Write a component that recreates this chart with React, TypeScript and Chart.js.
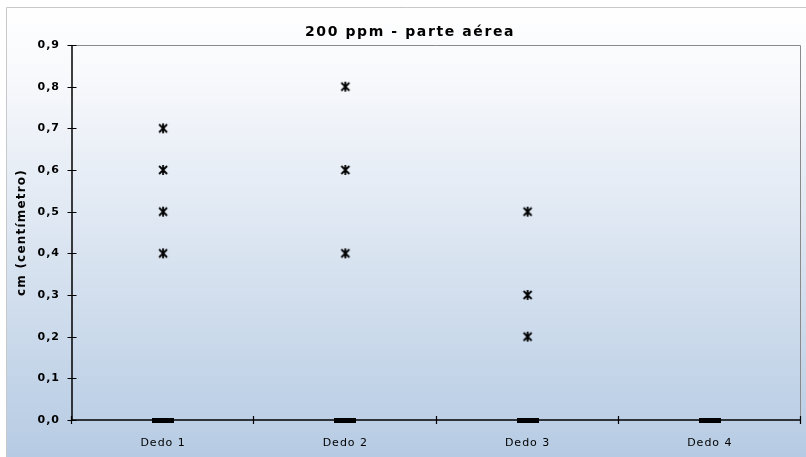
import React, { useEffect, useRef } from "react";
import { Chart, registerables } from "chart.js";

Chart.register(...registerables);

const categories = ["Dedo 1", "Dedo 2", "Dedo 3", "Dedo 4"];
const starPoints: { cat: string; value: number }[] = [
  { cat: "Dedo 1", value: 0.7 },
  { cat: "Dedo 1", value: 0.6 },
  { cat: "Dedo 1", value: 0.5 },
  { cat: "Dedo 1", value: 0.4 },
  { cat: "Dedo 2", value: 0.8 },
  { cat: "Dedo 2", value: 0.6 },
  { cat: "Dedo 2", value: 0.4 },
  { cat: "Dedo 3", value: 0.5 },
  { cat: "Dedo 3", value: 0.3 },
  { cat: "Dedo 3", value: 0.2 },
];
const zeroValues = [0, 0, 0, 0];
const yTicks = [0, 0.1, 0.2, 0.3, 0.4, 0.5, 0.6, 0.7, 0.8, 0.9];
const titleText = "200 ppm - parte aérea";
const yTitle = "cm (centímetro)";

function makeAsterisk(): HTMLCanvasElement {
  const c = document.createElement("canvas");
  c.width = 12;
  c.height = 12;
  const ctx = c.getContext("2d")!;
  ctx.strokeStyle = "#000";
  ctx.lineWidth = 1.8;
  ctx.beginPath();
  ctx.moveTo(2, 2);
  ctx.lineTo(10, 10);
  ctx.moveTo(10, 2);
  ctx.lineTo(2, 10);
  ctx.moveTo(6, 1);
  ctx.lineTo(6, 11);
  ctx.stroke();
  return c;
}

function makeDash(): HTMLCanvasElement {
  const c = document.createElement("canvas");
  c.width = 22;
  c.height = 5;
  const ctx = c.getContext("2d")!;
  ctx.fillStyle = "#000";
  ctx.fillRect(0, 0, 22, 5);
  return c;
}

const FONT = "'DejaVu Sans', Verdana, sans-serif";

export default function App() {
  const ref = useRef<HTMLCanvasElement>(null);
  useEffect(() => {
    const canvas = ref.current!;
    const bgPlugin = {
      id: "bg",
      beforeDraw(chart: any) {
        const ctx = chart.ctx;
        ctx.save();
        ctx.fillStyle = "#ffffff";
        ctx.fillRect(0, 0, chart.width, chart.height);
        const g = ctx.createLinearGradient(0, 7, 0, chart.height);
        g.addColorStop(0, "#ffffff");
        g.addColorStop(0.15, "#f8f9fc");
        g.addColorStop(1, "#b6cbe3");
        ctx.fillStyle = g;
        ctx.fillRect(6, 7, chart.width - 6, chart.height - 7);
        ctx.strokeStyle = "#c8c8c8";
        ctx.lineWidth = 1;
        ctx.beginPath();
        ctx.moveTo(6.5, chart.height);
        ctx.lineTo(6.5, 7.5);
        ctx.lineTo(chart.width, 7.5);
        ctx.stroke();
        ctx.restore();
        (ctx as any).letterSpacing = "1px";
      },
      beforeDatasetsDraw(chart: any) {
        const ctx = chart.ctx;
        const a = chart.chartArea;
        const y = chart.scales.y;
        ctx.save();
        ctx.strokeStyle = "#8a8a8a";
        ctx.lineWidth = 1;
        ctx.beginPath();
        ctx.moveTo(a.left, a.top + 0.5);
        ctx.lineTo(a.right - 0.5, a.top + 0.5);
        ctx.lineTo(a.right - 0.5, a.bottom);
        ctx.stroke();
        ctx.strokeStyle = "#000";
        ctx.lineWidth = 1.5;
        ctx.beginPath();
        ctx.moveTo(a.left, a.top);
        ctx.lineTo(a.left, a.bottom);
        ctx.lineTo(a.right, a.bottom);
        ctx.stroke();
        ctx.lineWidth = 1.2;
        ctx.beginPath();
        for (const t of yTicks) {
          const py = Math.round(y.getPixelForValue(t)) + 0.5;
          ctx.moveTo(a.left - 4.5, py);
          ctx.lineTo(a.left + 4.5, py);
        }
        const n = categories.length;
        const w = (a.right - a.left) / n;
        for (let i = 0; i <= n; i++) {
          const px = Math.round(a.left + i * w) - 0.5;
          ctx.moveTo(px, a.bottom - 4);
          ctx.lineTo(px, a.bottom + 4);
        }
        ctx.stroke();
        ctx.fillStyle = "#000";
        ctx.font = `bold 14px ${FONT}`;
        (ctx as any).letterSpacing = "1.6px";
        ctx.textAlign = "center";
        ctx.textBaseline = "middle";
        ctx.fillText(titleText, 410, 32);
        ctx.save();
        ctx.translate(22, (a.top + a.bottom) / 2);
        ctx.rotate(-Math.PI / 2);
        ctx.font = `bold 12px ${FONT}`;
        (ctx as any).letterSpacing = "1.2px";
        ctx.fillText(yTitle, 0, 0);
        ctx.restore();
        ctx.restore();
      },
    };

    const chart = new Chart(canvas, {
      type: "scatter",
      data: {
        labels: categories,
        datasets: [
          {
            label: "zero",
            data: categories.map((c, i) => ({ x: c, y: zeroValues[i] })) as any,
            pointStyle: makeDash() as any,
            showLine: false,
            clip: false,
          },
          {
            label: "valores",
            data: starPoints.map((p) => ({ x: p.cat, y: p.value })) as any,
            pointStyle: makeAsterisk() as any,
            showLine: false,
            clip: false,
          },
        ],
      },
      options: {
        animation: false,
        responsive: false,
        layout: { padding: { left: 0, right: 4, top: 45, bottom: 0 } },
        plugins: {
          legend: { display: false },
          tooltip: { enabled: false },
          title: { display: false },
        },
        scales: {
          x: {
            type: "category",
            labels: categories,
            offset: true,
            grid: { display: false, drawTicks: false },
            border: { display: false },
            ticks: {
              color: "#000",
              font: { family: FONT, size: 11 },
              padding: 17,
              maxRotation: 0,
            },
            afterFit(scale: any) {
              scale.height = 37;
            },
          },
          y: {
            min: 0,
            max: 0.9,
            grid: { display: false, drawTicks: false },
            border: { display: false },
            ticks: {
              stepSize: 0.1,
              color: "#000",
              font: { family: FONT, size: 11, weight: "bold" },
              padding: 12,
              callback: (v: any) => Number(v).toFixed(1).replace(".", ","),
            },
            afterFit(scale: any) {
              scale.width = 72;
            },
          },
        },
      } as any,
      plugins: [bgPlugin],
    });
    return () => chart.destroy();
  }, []);
  return (
    <div style={{ position: "fixed", left: 0, top: 0, width: 806, height: 457 }}>
      <canvas ref={ref} width={806} height={457} style={{ display: "block", width: 806, height: 457 }} />
    </div>
  );
}
